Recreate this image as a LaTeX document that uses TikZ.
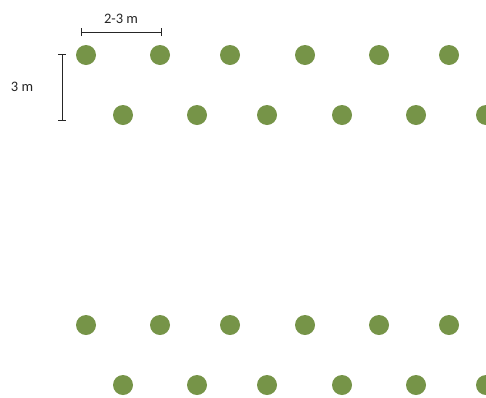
\documentclass[tikz,border=0pt]{standalone}
\usepackage{fontspec}
\setmainfont{Carlito}
\definecolor{tree}{RGB}{118,148,72}
\begin{document}
\begin{tikzpicture}[x=1pt,y=-1pt,
  tree/.style={circle,fill=tree,minimum size=20pt,inner sep=0pt},
  bar/.style={line width=1pt,draw=black!85},
  lbl/.style={font=\fontsize{14.5}{17}\selectfont,text=black!85,inner sep=0pt}]
\useasboundingbox (0,0) rectangle (486,397);
\foreach \x [count=\i] in {86,160,230,305,379,449}{
  \node[tree] (a\i) at (\x,55) {};
  \node[tree] (c\i) at (\x,325) {};
}
\foreach \x [count=\i] in {123,197,267,342,416,486}{
  \node[tree] (b\i) at (\x,115) {};
  \node[tree] (d\i) at (\x,385) {};
}
% horizontal scale bar
\coordinate (h1) at (81,32);
\coordinate (h2) at (161,32);
\draw[bar] (h1) -- (h2);
\draw[bar] ([yshift=-4]h1) -- ([yshift=4]h1);
\draw[bar] ([yshift=-4]h2) -- ([yshift=4]h2);
\node[lbl] (t1) at (121,19) {2-3 m};
% vertical scale bar
\coordinate (v1) at (62,54);
\coordinate (v2) at (62,120);
\draw[bar] (v1) -- (v2);
\draw[bar] ([xshift=-4]v1) -- ([xshift=4]v1);
\draw[bar] ([xshift=-4]v2) -- ([xshift=4]v2);
\node[lbl] (t2) at (22,87) {3 m};
\end{tikzpicture}
\end{document}
